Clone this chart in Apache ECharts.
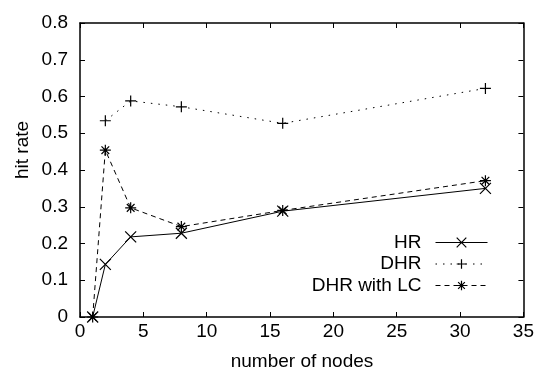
<!DOCTYPE html>
<html><head><meta charset="utf-8">
<script src="https://cdn.jsdelivr.net/npm/echarts@6/dist/echarts.min.js"></script>
<style>html,body{margin:0;padding:0;background:#fff}#c{width:537px;height:374px}</style>
</head><body><div id="c"></div>
<script>
const nodes = [1, 2, 4, 8, 16, 32];
const hr = [0, 0.143, 0.218, 0.228, 0.288, 0.350];
const dhr = [null, 0.534, 0.588, 0.572, 0.527, 0.622];
const dhrLC = [0, 0.454, 0.297, 0.246, 0.290, 0.371];
const seriesNames = ['HR', 'DHR', 'DHR with LC'];
const xTitle = 'number of nodes';
const yTitle = 'hit rate';
const xTicks = [0, 5, 10, 15, 20, 25, 30, 35];
const yTicks = [0, 0.1, 0.2, 0.3, 0.4, 0.5, 0.6, 0.7, 0.8];

const FONT = 'Liberation Sans, Arial, sans-serif';
const FS = 19;
const crossPath = 'path://M0,0L10,10M10,0L0,10';
const plusPath = 'path://M5,0L5,10M0,5L10,5';
const starPath = 'path://M5,0L5,10M0,5L10,5M1.5,1.5L8.5,8.5M8.5,1.5L1.5,8.5';

function pairs(vals){ return nodes.map((n,i)=> vals[i]==null?null:[n, vals[i]]).filter(p=>p); }
function mk(name, vals, sym, type){
  return {
    name, type:'line', data: pairs(vals), symbol: sym, symbolSize: 11,
    lineStyle:{color:'#000', width:1, type: type},
    itemStyle:{color:'rgba(0,0,0,0)', borderColor:'#000', borderWidth:1.2},
    emphasis:{disabled:true}, z:3
  };
}
const chart = echarts.init(document.getElementById('c'));
function axisBase(){ return {
  show:true,
  axisLine:{show:true, onZero:false, lineStyle:{color:'#000', width:1.5}},
  axisTick:{show:true, inside:true, length:5, lineStyle:{color:'#000', width:1}},
  splitLine:{show:false}
};}
chart.setOption({
  animation:false,
  grid:{left:80, right:13, top:23, bottom:57, containLabel:false},
  legend:{
    right: 44, top: 228, orient:'vertical', align:'right',
    itemWidth: 52, itemHeight: 12, itemGap: 2.5,
    lineStyle:{width:1},
    itemStyle:{borderWidth:1.2},
    textStyle:{fontFamily:FONT, fontSize:FS, lineHeight:12, color:'#000', padding:[0,9,0,0]},
    data: seriesNames.map(n=>({name:n}))
  },
  xAxis:[
    Object.assign({type:'value', min:xTicks[0], max:xTicks[xTicks.length-1], interval:5,
      axisLabel:{fontFamily:FONT, fontSize:FS, color:'#000', margin:5}}, axisBase()),
    Object.assign({type:'value', min:xTicks[0], max:xTicks[xTicks.length-1], interval:5, position:'top',
      axisLabel:{show:false}}, axisBase())
  ],
  yAxis:[
    Object.assign({type:'value', min:yTicks[0], max:yTicks[yTicks.length-1], interval:0.1,
      axisLabel:{fontFamily:FONT, fontSize:FS, color:'#000', margin:12,
        formatter:v=> v===0 ? '0' : v.toFixed(1)}}, axisBase()),
    Object.assign({type:'value', min:yTicks[0], max:yTicks[yTicks.length-1], interval:0.1, position:'right',
      axisLabel:{show:false}}, axisBase())
  ],
  graphic:[
    {type:'text', x:302, y:362, style:{text:xTitle, fontFamily:FONT, fontSize:FS, fill:'#000', align:'center', verticalAlign:'middle'}},
    {type:'text', x:23, y:150, rotation:Math.PI/2, style:{text:yTitle, fontFamily:FONT, fontSize:FS, fill:'#000', align:'center', verticalAlign:'middle'}}
  ],
  series:[
    mk(seriesNames[0], hr, crossPath, 'solid'),
    mk(seriesNames[1], dhr, plusPath, [1.5,6]),
    mk(seriesNames[2], dhrLC, starPath, [5,4]),
    {type:'line', xAxisIndex:1, yAxisIndex:1, data:[], silent:true, showSymbol:false}
  ]
});
</script></body></html>
